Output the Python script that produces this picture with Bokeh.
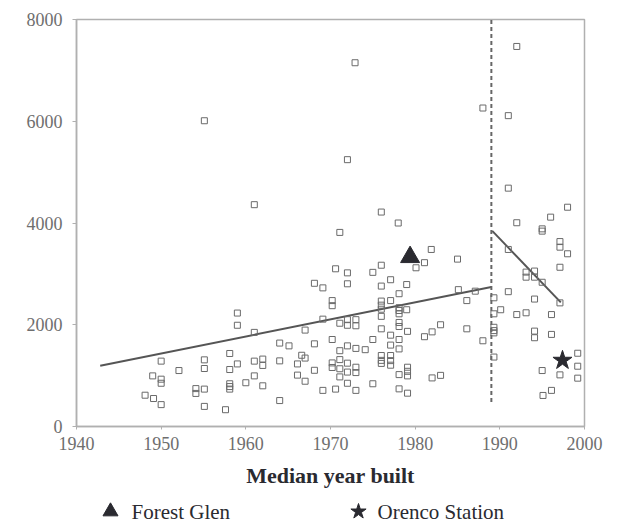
from bokeh.plotting import figure
from bokeh.layouts import column
from bokeh.models import FixedTicker, Range1d
from bokeh.core.properties import value
from bokeh.embed import file_html
from bokeh.resources import INLINE

# ---- data ----
years = [
    1955.1, 1961.0, 1959.0, 1959.0, 1961.0, 1964.0, 1950.0, 1952.1, 1949.0, 1950.0,
    1950.0, 1948.1, 1949.1, 1950.0, 1955.1, 1955.1, 1954.1, 1954.1, 1955.1, 1955.1,
    1958.1, 1959.0, 1958.1, 1961.0, 1962.0, 1962.0, 1964.0, 1961.0, 1960.0, 1962.0,
    1958.1, 1958.1, 1958.1, 1957.6, 1964.0,
    1971.1, 1970.6, 1968.1, 1969.1, 1970.2, 1970.2, 1969.1, 1971.1, 1967.0, 1970.2,
    1965.1, 1968.1, 1966.1, 1966.6, 1967.0, 1968.1, 1970.2, 1970.2, 1971.1, 1971.1,
    1971.1, 1971.1, 1966.1, 1967.0, 1969.1, 1970.6, 1972.9, 1972.0,
    1978.0, 1976.0, 1981.9, 1985.0, 1981.1, 1980.1, 1976.0, 1972.0, 1975.0, 1977.1,
    1972.0, 1976.0, 1979.0, 1978.1, 1985.1, 1976.0, 1976.0, 1976.0, 1977.1, 1978.1,
    1978.1, 1978.1, 1979.0, 1986.1, 1972.0, 1973.0, 1973.0, 1972.0, 1976.0, 1978.1,
    1978.1, 1976.0, 1979.1, 1983.0, 1982.0, 1981.1, 1986.1, 1977.1, 1978.1, 1975.0,
    1972.0, 1973.0, 1974.1, 1977.1, 1978.1, 1976.0, 1976.0, 1976.0, 1977.1, 1977.1,
    1977.1, 1972.0, 1973.0, 1973.0, 1972.0, 1979.1, 1979.1, 1979.1, 1978.1, 1982.0,
    1983.0, 1972.0, 1975.0, 1973.0, 1978.1, 1979.1, 1987.1, 1988.0, 1988.0,
    1992.0, 1991.0, 1991.0, 1998.0, 1996.0, 1992.0, 1995.0, 1995.0, 1997.1, 1997.1,
    1998.0, 1997.1, 1991.0, 1993.1, 1994.1, 1993.1, 1994.1, 1995.0, 1997.1, 1991.0,
    1994.1, 1989.3, 1990.1, 1992.0, 1993.1, 1996.1, 1989.3, 1989.3, 1989.3, 1989.3,
    1994.1, 1994.1, 1996.1, 1989.3, 1995.0, 1997.1, 1999.2, 1999.2, 1999.2, 1995.1,
    1996.1,
]
values = [
    6010, 4360, 2230, 1990, 1850, 1640, 1285, 1100, 995, 930,
    850, 615, 550, 430, 1310, 1140, 745, 650, 735, 395,
    1435, 1230, 1120, 1285, 1325, 1200, 1290, 995, 860, 800,
    840, 785, 735, 330, 510,
    3815, 3100, 2815, 2725, 2475, 2375, 2110, 2030, 1895, 1710,
    1585, 1625, 1230, 1400, 1345, 1105, 1250, 1160, 1490, 1315,
    1135, 975, 1010, 890, 710, 735, 7150, 5245,
    4000, 4215, 3480, 3290, 3220, 3120, 3170, 3020, 3030, 2885,
    2805, 2760, 2790, 2610, 2690, 2465, 2385, 2305, 2475, 2335,
    2280, 2215, 2295, 2475, 2100, 2100, 1980, 1990, 2165, 2045,
    1965, 1920, 1870, 2000, 1860, 1765, 1920, 1795, 1710, 1710,
    1585, 1535, 1510, 1600, 1525, 1395, 1300, 1240, 1395, 1295,
    1205, 1245, 1165, 1060, 1070, 1165, 1085, 995, 1020, 955,
    1005, 850, 840, 710, 740, 655, 2660, 1685, 6260,
    7470, 6110, 4685, 4310, 4115, 4005, 3885, 3840, 3635, 3525,
    3395, 3130, 3480, 3035, 3055, 2935, 2935, 2835, 2430, 2650,
    2505, 2530, 2295, 2200, 2235, 2200, 2215, 1950, 1885, 1840,
    1875, 1745, 1810, 1365, 1100, 1015, 1440, 1185, 950, 610,
    710,
]

forest_glen_year = [1979.4]
forest_glen_value = [3330]
orenco_year = [1997.4]
orenco_value = [1300]

trend_before_x = [1942.8, 1989.0]
trend_before_y = [1195, 2740]
trend_after_x = [1989.1, 1997.2]
trend_after_y = [3845, 2440]
break_x = [1989.0, 1989.0]
break_y = [480, 8000]

x_ticks = [1940, 1950, 1960, 1970, 1980, 1990, 2000]
y_ticks = [0, 2000, 4000, 6000, 8000]
legend_labels = ["Forest Glen", "Orenco Station"]

SERIF = "Liberation Serif"
DARK = "#2a2a30"
FRAME_LEFT, FRAME_RIGHT = 76, 584
MAIN_H, LEG_H = 490, 32

p = figure(width=620, height=MAIN_H, output_backend="svg", toolbar_location=None,
           x_range=Range1d(1940, 2000), y_range=Range1d(0, 8000),
           min_border_left=FRAME_LEFT, min_border_right=620 - FRAME_RIGHT,
           min_border_top=19, min_border_bottom=MAIN_H - 426)
p.grid.visible = False
p.outline_line_color = "#b0b0b0"
p.outline_line_width = 1.5

for ax in (p.xaxis[0], p.yaxis[0]):
    ax.axis_line_color = "#b0b0b0"
    ax.axis_line_width = 1.5
    ax.major_tick_line_color = "#b0b0b0"
    ax.minor_tick_line_color = None
    ax.major_tick_in = 0
    ax.major_label_text_font = SERIF
    ax.major_label_text_color = "#6e6e6e"
    ax.major_label_text_font_size = "18px"

p.xaxis.ticker = FixedTicker(ticks=x_ticks)
p.yaxis.ticker = FixedTicker(ticks=y_ticks)
p.xaxis.major_tick_out = 3
p.yaxis.major_tick_out = 4
p.xaxis.major_label_standoff = 7
p.yaxis.major_label_standoff = 10
p.xaxis.axis_label = "Median year built"
p.xaxis.axis_label_text_font = SERIF
p.xaxis.axis_label_text_font_style = "bold"
p.xaxis.axis_label_text_font_size = "22px"
p.xaxis.axis_label_text_color = DARK
p.xaxis.axis_label_standoff = 10

p.line(trend_before_x, trend_before_y, line_color="#555555", line_width=2)
p.line(trend_after_x, trend_after_y, line_color="#555555", line_width=2)
p.line(break_x, break_y, line_color="#666666", line_width=2, line_dash="4 3")

p.scatter(years, values, marker="square", size=6, fill_color=None,
          line_color="#6a6a6a", line_width=1)
p.scatter(forest_glen_year, forest_glen_value, marker="triangle", size=19,
          fill_color=DARK, line_color=DARK)
p.scatter(orenco_year, orenco_value, marker="star", size=20,
          fill_color=DARK, line_color=DARK)

# ---- legend strip (page pixel coordinates, y downward from its top) ----
leg = figure(width=620, height=LEG_H, output_backend="svg", toolbar_location=None,
             x_range=Range1d(FRAME_LEFT, FRAME_RIGHT), y_range=Range1d(LEG_H, 0),
             min_border_left=FRAME_LEFT, min_border_right=620 - FRAME_RIGHT,
             min_border_top=0, min_border_bottom=0)
leg.axis.visible = False
leg.grid.visible = False
leg.outline_line_color = None

marker_x = [110, 358]
text_x = [131, 377]
row_y = [511 - MAIN_H, 511 - MAIN_H]
leg.scatter([marker_x[0]], [row_y[0]], marker="triangle", size=15,
            fill_color=DARK, line_color=DARK)
leg.scatter([marker_x[1]], [row_y[1]], marker="star", size=16,
            fill_color=DARK, line_color=DARK)
leg.text(text_x, row_y, text=legend_labels, text_font=value(SERIF),
         text_font_size="21px", text_color=DARK, text_align="left",
         text_baseline="middle")

layout = column(p, leg, spacing=0)
open("out.html", "w").write(file_html(layout, INLINE))
